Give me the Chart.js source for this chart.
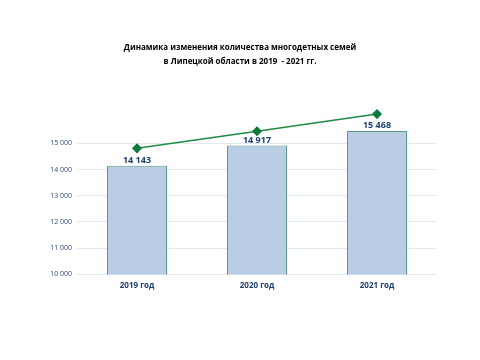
<!DOCTYPE html>
<html>
<head>
<meta charset="utf-8">
<script src="https://cdn.jsdelivr.net/npm/chart.js@4/dist/chart.umd.min.js"></script>
<style>
  html, body { margin: 0; padding: 0; background: #fff; }
  #wrap { width: 480px; height: 360px; }
</style>
</head>
<body>
<div id="wrap"><canvas id="chart1"></canvas></div>
<script>
// data
const years = ['2019 год', '2020 год', '2021 год'];
const families = [14143, 14917, 15468];
const trend = [14808, 15462, 16115];
const yTicks = [10000, 11000, 12000, 13000, 14000, 15000];
const titleLines = ['Динамика изменения количества многодетных семей', 'в Липецкой области в 2019  - 2021 гг.'];

const fmt = function(v) {
  return String(v).replace(/\B(?=(\d{3})+(?!\d))/g, ' ');
};

// value labels above the bars
const barLabels = {
  id: 'barLabels',
  afterDatasetsDraw(chart) {
    const ctx = chart.ctx;
    const meta = chart.getDatasetMeta(1);
    ctx.save();
    ctx.font = 'bold 9px "Open Sans", sans-serif';
    ctx.fillStyle = '#1F3F6E';
    ctx.textAlign = 'center';
    ctx.textBaseline = 'bottom';
    meta.data.forEach(function(bar, i) {
      ctx.fillText(fmt(families[i]), bar.x, bar.y - 1);
    });
    ctx.restore();
  }
};

const ctx = document.getElementById('chart1');

const chart1 = new Chart(ctx, {
  data: {
    labels: years,
    datasets: [{
      type: 'line',
      data: trend,
      borderColor: '#1E8C45',
      borderWidth: 1.5,
      pointStyle: 'rectRot',
      pointRadius: 4,
      pointBackgroundColor: '#0E7A3A',
      pointBorderColor: '#0E7A3A',
      fill: false,
      tension: 0,
    }, {
      type: 'bar',
      data: families,
      backgroundColor: '#B9CDE4',
      borderColor: '#5A9A88',
      borderWidth: 1,
      barPercentage: 0.5,
      categoryPercentage: 1,
    }]
  },
  options: {
    responsive: true,
    maintainAspectRatio: false,
    animation: false,
    layout: { padding: { left: 43, right: 43, top: 41, bottom: 70 } },
    plugins: {
      legend: { display: false },
      tooltip: { enabled: false },
      title: {
        display: true,
        text: titleLines,
        color: '#000',
        font: { family: '"Open Sans", sans-serif', size: 8, weight: 'bold', lineHeight: 1.75 },
        padding: { top: 0, bottom: 35 },
      },
    },
    scales: {
      x: {
        grid: { display: false },
        border: { display: false },
        ticks: {
          color: '#1F3F6E',
          font: { family: '"Open Sans", sans-serif', size: 8, weight: 'bold' },
          padding: -1,
        },
      },
      y: {
        min: 10000,
        max: 16500,
        border: { display: false },
        grid: { color: '#E4E8F0', drawTicks: false },
        afterFit(scale) { scale.width = 34; },
        afterBuildTicks(scale) {
          scale.ticks = yTicks.map(function(v) { return { value: v }; });
        },
        ticks: {
          padding: 5,
          color: '#2E4A78',
          font: { family: '"Open Sans", sans-serif', size: 7 },
          callback: function(v) { return fmt(v); },
        },
      },
    },
  },
  plugins: [barLabels],
});
</script>
</body>
</html>
